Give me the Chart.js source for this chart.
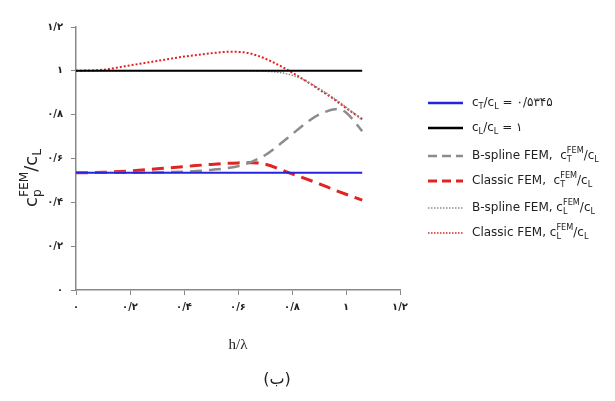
<!DOCTYPE html>
<html>
<head>
<meta charset="utf-8">
<script src="https://cdn.jsdelivr.net/npm/chart.js@4.4.0/dist/chart.umd.min.js"></script>
<style>
  body { margin: 0; background: #fff; }
  #wrap { width: 615px; height: 401px; position: relative; }
</style>
</head>
<body>
<div id="wrap"><canvas id="mainChart" width="615" height="401"></canvas></div>
<script>
// values (h/lambda vs c/cL)
var xTicks = [0, 0.2, 0.4, 0.6, 0.8, 1.0, 1.2];
var yTicks = [0, 0.2, 0.4, 0.6, 0.8, 1.0, 1.2];

var flatX = [0, 1.06];
var ratioT = [0.5345, 0.5345];
var ratioL = [1, 1];

var classicTX = [0, 0.1, 0.2, 0.3, 0.4, 0.5, 0.6, 0.65, 0.7, 0.79, 0.9, 0.95, 1.06];
var classicTY = [0.5345, 0.537, 0.543, 0.553, 0.563, 0.573, 0.58, 0.581, 0.574, 0.5345, 0.485, 0.46, 0.41];

var splineTX = [0, 0.2, 0.4, 0.5, 0.6, 0.65, 0.7, 0.75, 0.8, 0.85, 0.9, 0.97, 1.0, 1.06];
var splineTY = [0.5345, 0.535, 0.54, 0.548, 0.565, 0.585, 0.615, 0.66, 0.71, 0.76, 0.8, 0.826, 0.81, 0.725];

var classicLX = [0, 0.1, 0.2, 0.3, 0.4, 0.5, 0.57, 0.62, 0.67, 0.72, 0.79, 0.85, 0.9, 0.95, 1.0, 1.06];
var classicLY = [1.0, 1.005, 1.025, 1.045, 1.065, 1.08, 1.087, 1.085, 1.07, 1.045, 1.0, 0.955, 0.915, 0.875, 0.83, 0.78];

var splineLX = [0, 0.3, 0.6, 0.7, 0.75, 0.8, 0.85, 0.9, 0.95, 1.0, 1.06];
var splineLY = [1, 1, 1, 0.998, 0.993, 0.98, 0.955, 0.92, 0.88, 0.835, 0.775];

var BLUE = "#2424dc", RED = "#e02424", GRAY = "#8c8c8c";
var FONT = "'DejaVu Sans', sans-serif";

function pts(xs, ys) {
  var out = [];
  for (var i = 0; i < xs.length; i++) out.push({x: xs[i], y: ys[i]});
  return out;
}

// persian digits with "/" as decimal mark
function fa(v) {
  var s = String(Math.round(v * 10000) / 10000).replace(".", "/");
  var d = "۰۱۲۳۴۵۶۷۸۹";
  return s.replace(/[0-9]/g, function(c){ return d[+c]; });
}

function ds(label, xs, ys, color, width, dash) {
  return {
    label: label, data: pts(xs, ys), borderColor: color, borderWidth: width,
    borderDash: dash, pointRadius: 0, fill: false, cubicInterpolationMode: "monotone"
  };
}

// text pieces: [text, mode] mode 0 normal, 1 subscript, 2 superscript stacked over the previous subscript
function richText(ctx, parts, x, y, size) {
  var lastX = x, lastW = 0;
  parts.forEach(function(p) {
    var fs = p[1] ? size * 0.68 : size;
    var dy = p[1] === 1 ? size * 0.3 : (p[1] === 2 ? -size * 0.42 : 0);
    ctx.font = fs + "px " + FONT;
    var w = ctx.measureText(p[0]).width;
    if (p[1] === 2) {
      ctx.fillText(p[0], lastX, y + dy);
      x = Math.max(x, lastX + w);
    } else {
      ctx.fillText(p[0], x, y + dy);
      lastX = x; lastW = w;
      x += w;
    }
  });
  return x;
}

var legendRows = [
  {color: BLUE, width: 2.5, dash: [], text: [["c", 0], ["T", 1], ["/c", 0], ["L", 1], [" = " + fa(0.5345), 0]]},
  {color: "#000", width: 2.5, dash: [], text: [["c", 0], ["L", 1], ["/c", 0], ["L", 1], [" = " + fa(1), 0]]},
  {color: GRAY, width: 2.5, dash: [9, 5], text: [["B-spline FEM,  c", 0], ["T", 1], ["FEM", 2], ["/c", 0], ["L", 1]]},
  {color: RED, width: 3, dash: [9, 5], text: [["Classic FEM,  c", 0], ["T", 1], ["FEM", 2], ["/c", 0], ["L", 1]]},
  {color: GRAY, width: 1.5, dash: [1.5, 1.5], text: [["B-spline FEM, c", 0], ["L", 1], ["FEM", 2], ["/c", 0], ["L", 1]]},
  {color: RED, width: 1.5, dash: [1.5, 1.5], text: [["Classic FEM, c", 0], ["L", 1], ["FEM", 2], ["/c", 0], ["L", 1]]}
];
var legendY = [103, 128, 156, 181, 208, 233];

var extras = {
  id: "extras",
  afterDraw: function(chart) {
    var ctx = chart.ctx;
    ctx.save();
    ctx.textBaseline = "middle";
    ctx.fillStyle = "#222";
    legendRows.forEach(function(r, i) {
      var y = legendY[i];
      ctx.beginPath();
      ctx.setLineDash(r.dash);
      ctx.strokeStyle = r.color;
      ctx.lineWidth = r.width;
      ctx.moveTo(428, y); ctx.lineTo(463, y);
      ctx.stroke();
      ctx.setLineDash([]);
      richText(ctx, r.text, 472, y, 12);
    });
    // y title
    ctx.save();
    ctx.translate(32, 165);
    ctx.rotate(-Math.PI / 2);
    ctx.textAlign = "left";
    richText(ctx, [["c", 0], ["p", 1], ["FEM", 2], ["/c", 0], ["L", 1]], -42, 0, 18);
    ctx.restore();
    // x title and caption
    ctx.textAlign = "center";
    ctx.font = "15px 'Liberation Serif', serif";
    ctx.fillText("h/λ", 238, 345);
    ctx.font = "16px " + FONT;
    ctx.fillText("(ب)", 277, 380);
    ctx.restore();
  }
};

var config = {
  type: "line",
  data: {
    datasets: [
      ds("cT/cL", flatX, ratioT, BLUE, 2, []),
      ds("cL/cL", flatX, ratioL, "#000", 2, []),
      ds("B-spline FEM cT", splineTX, splineTY, GRAY, 2.5, [12, 7]),
      ds("Classic FEM cT", classicTX, classicTY, RED, 3, [12, 7]),
      ds("B-spline FEM cL", splineLX, splineLY, GRAY, 1.5, [1.5, 1.5]),
      ds("Classic FEM cL", classicLX, classicLY, RED, 2, [2, 2])
    ]
  },
  options: {
    responsive: false,
    animation: false,
    layout: {padding: {left: 26, top: 27, right: 215, bottom: 76}},
    plugins: {legend: {display: false}, tooltip: {enabled: false}},
    scales: {
      x: {
        type: "linear", min: 0, max: 1.2,
        afterBuildTicks: function(s) { s.ticks = xTicks.map(function(v){ return {value: v}; }); },
        afterFit: function(s) { s.height = 35; },
        border: {color: "#888", width: 1.5},
        grid: {drawOnChartArea: false, tickLength: 5, color: "#888"},
        ticks: {color: "#222", padding: 6, font: {family: FONT, size: 10, weight: "bold"},
          callback: function(v) { return fa(v); }}
      },
      y: {
        min: 0, max: 1.2,
        afterBuildTicks: function(s) { s.ticks = yTicks.map(function(v){ return {value: v}; }); },
        afterFit: function(s) { s.width = 50; },
        border: {color: "#888", width: 1.5},
        grid: {drawOnChartArea: false, tickLength: 5, color: "#888"},
        ticks: {color: "#222", padding: 8, font: {family: FONT, size: 10, weight: "bold"},
          callback: function(v) { return fa(v); }}
      }
    }
  },
  plugins: [extras]
};

var ctx = document.getElementById("mainChart");
new Chart(ctx, config);
</script>
</body>
</html>
